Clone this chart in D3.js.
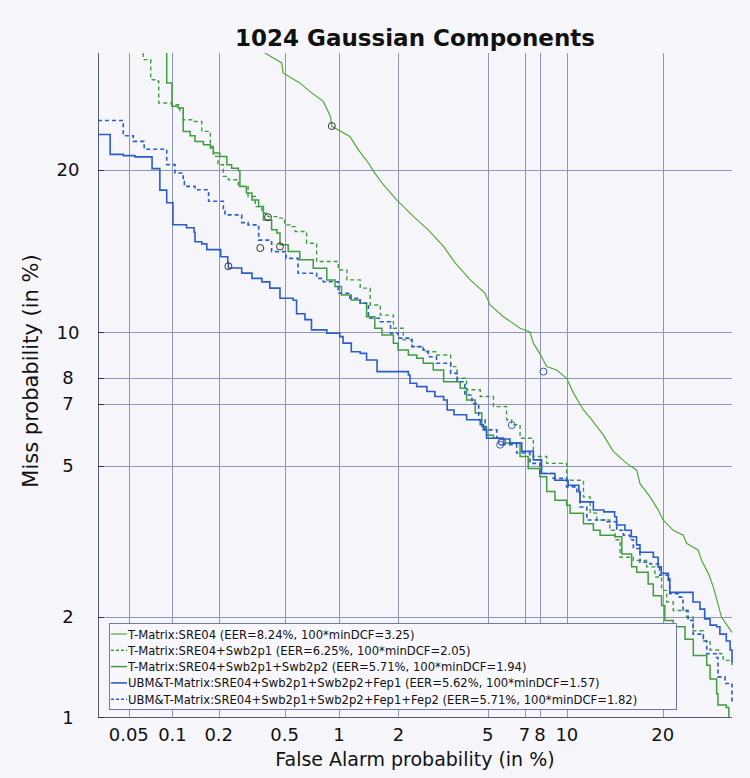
<!DOCTYPE html>
<html>
<head>
<meta charset="utf-8">
<script src="https://cdn.jsdelivr.net/npm/d3@7/dist/d3.min.js"></script>
<style>
body { margin: 0; background: #f6f6fa; }
svg { display: block; font-family: "DejaVu Sans", sans-serif; }
</style>
</head>
<body>
<svg width="750" height="778"></svg>
<script>
// axis ranges (in %) and ticks
const xRange = [0.03, 30];
const yRange = [1, 30];
const xTicks = [0.05, 0.1, 0.2, 0.5, 1, 2, 5, 7, 8, 10, 20];
const yTicks = [1, 2, 5, 7, 8, 10, 20];
const yGrid = [2, 5, 7, 8, 10, 20];

// legend text, EER (%) and minDCF operating points [FA %, Miss %]
const seriesNames = [
  "T-Matrix:SRE04 (EER=8.24%, 100*minDCF=3.25)",
  "T-Matrix:SRE04+Swb2p1 (EER=6.25%, 100*minDCF=2.05)",
  "T-Matrix:SRE04+Swb2p1+Swb2p2 (EER=5.71%, 100*minDCF=1.94)",
  "UBM&T-Matrix:SRE04+Swb2p1+Swb2p2+Fep1 (EER=5.62%, 100*minDCF=1.57)",
  "UBM&T-Matrix:SRE04+Swb2p1+Swb2p2+Fep1+Fep2 (EER=5.71%, 100*minDCF=1.82)"
];
const seriesEER = [8.24, 6.25, 5.71, 5.62, 5.71];
const minDcfPoints = [[0.915, 23.5], [0.40, 16.6], [0.47, 14.7], [0.23, 13.5], [0.36, 14.6]];

// DET curves, [false alarm %, miss %]
const curveSre04 = [
  [0.384, 30], [0.481, 29.07], [0.49, 28.14], [0.61, 27.24], [0.694, 26.48], [0.822, 25.6],
  [0.9, 24.3], [0.915, 23.47], [1.14, 22.64], [1.26, 21.57], [1.42, 20.53], [1.53, 19.76],
  [1.66, 19.02], [1.96, 17.8], [2.36, 16.64], [2.76, 15.76], [3.24, 14.69], [3.65, 13.68],
  [4.23, 12.71], [4.88, 11.97], [5.11, 11.35], [5.79, 10.75], [6.73, 10.18], [7.34, 10.0],
  [7.56, 9.48], [8.0, 9.0], [8.47, 8.45], [9.2, 8.31], [9.98, 7.97], [10.54, 7.39],
  [11.4, 6.77], [12.14, 6.43], [13.26, 5.92], [14.26, 5.42], [15.69, 5.07], [16.82, 4.88],
  [17.2, 4.52], [18.4, 4.19], [19.42, 3.88], [20.04, 3.66], [21.36, 3.44], [22.73, 3.34],
  [23.2, 3.18], [24.85, 3.05], [25.35, 2.86], [26.34, 2.64], [27.1, 2.42], [27.8, 2.17],
  [28.36, 1.99], [30, 1.8]
];
const curveSwb1 = [
  [0.0631, 30], [0.0631, 29.38], [0.07, 29.38], [0.0712, 27.53], [0.08, 27.38], [0.0808, 25.46],
  [0.0985, 25.31], [0.112, 24.73], [0.118, 24.02], [0.137, 23.88], [0.156, 23.05], [0.177, 21.83],
  [0.185, 21.04], [0.198, 20.39], [0.214, 19.51], [0.23, 19.26], [0.265, 18.77], [0.304, 18.04],
  [0.336, 17.33], [0.368, 16.87], [0.4, 16.64], [0.46, 16.54], [0.5, 16.09], [0.537, 15.97],
  [0.573, 15.65], [0.666, 14.9], [0.757, 13.78], [0.99, 13.28], [1.1, 12.71], [1.29, 12.25],
  [1.45, 11.35], [1.63, 10.83], [1.89, 10.18], [2.11, 9.63], [2.32, 9.32], [2.62, 9.09],
  [3.01, 8.95], [3.48, 8.45], [3.71, 7.97], [4.08, 7.52], [4.66, 7.26], [5.28, 6.89],
  [5.96, 6.43], [6.24, 6.26], [6.73, 5.82], [7.56, 5.27], [8.47, 5.07], [9.98, 4.61],
  [11.4, 4.19], [12.0, 3.81], [12.62, 3.66], [13.9, 3.44], [14.44, 3.25], [14.97, 2.92],
  [16.43, 2.86], [17.98, 2.75], [19.0, 2.58], [19.84, 2.37], [20.5, 2.2], [21.36, 2.08],
  [23.2, 1.99], [24.14, 1.82], [25.6, 1.7], [26.6, 1.6], [28.1, 1.56], [28.6, 1.49], [30, 1.41]
];
const curveSwb2 = [
  [0.0915, 30], [0.0915, 27.24], [0.0993, 27.24], [0.0993, 25.17], [0.109, 25.03], [0.118, 24.59],
  [0.118, 23.05], [0.131, 22.7], [0.141, 22.23], [0.16, 21.96], [0.177, 21.7], [0.185, 21.31],
  [0.203, 21.04], [0.225, 20.39], [0.241, 20.13], [0.265, 19.95], [0.271, 18.77], [0.297, 18.29],
  [0.321, 17.8], [0.352, 17.33], [0.376, 16.42], [0.42, 15.76], [0.451, 15.55], [0.47, 14.8],
  [0.524, 14.38], [0.61, 13.88], [0.725, 13.38], [0.86, 12.71], [0.952, 12.34], [1.03, 11.88],
  [1.16, 11.61], [1.29, 11.44], [1.39, 10.75], [1.53, 10.18], [1.66, 9.86], [1.89, 9.48],
  [1.99, 9.17], [2.23, 8.95], [2.44, 8.81], [2.62, 8.59], [2.91, 8.31], [3.24, 7.83],
  [3.83, 7.58], [4.08, 7.13], [4.44, 6.66], [4.73, 6.2], [4.95, 5.92], [5.28, 5.82],
  [5.79, 5.67], [6.73, 5.27], [7.23, 4.93], [8.0, 4.7], [8.47, 4.32], [9.07, 4.11],
  [9.98, 3.99], [10.26, 3.81], [11.4, 3.58], [12.3, 3.44], [12.94, 3.34], [14.44, 3.31],
  [15.16, 2.98], [16.24, 2.75], [16.82, 2.66], [18.17, 2.47], [18.8, 2.29], [19.84, 2.15],
  [20.26, 1.95], [21.36, 1.87], [22.97, 1.72], [24.14, 1.54], [26.1, 1.44], [26.6, 1.31],
  [27.6, 1.18], [27.8, 1.09], [29.1, 1.07], [29.5, 1.0]
];
const curveFep1 = [
  [0.03, 22.8], [0.0368, 21.2], [0.0457, 21.1], [0.0553, 21.0], [0.0727, 20.1], [0.0822, 18.5],
  [0.0915, 17.6], [0.1008, 16.1], [0.124, 15.9], [0.139, 15.6], [0.141, 15.0], [0.156, 14.86],
  [0.168, 14.5], [0.206, 14.07], [0.228, 13.7], [0.23, 13.4], [0.278, 13.1], [0.321, 12.8],
  [0.368, 12.6], [0.41, 12.25], [0.47, 11.7], [0.56, 11.6], [0.585, 10.9], [0.652, 10.6],
  [0.709, 10.1], [0.86, 9.94], [1.01, 9.78], [1.05, 9.48], [1.16, 9.09], [1.29, 9.02],
  [1.39, 8.73], [1.57, 8.24], [2.03, 8.24], [2.23, 8.1], [2.27, 7.77], [2.44, 7.64],
  [2.72, 7.45], [2.96, 7.26], [3.24, 7.13], [3.36, 6.77], [3.6, 6.6], [4.08, 6.43],
  [4.66, 6.26], [4.8, 6.09], [4.95, 5.82], [5.62, 5.8], [6.15, 5.67], [6.83, 5.42],
  [7.56, 5.17], [8.11, 5.12], [8.11, 4.79], [9.07, 4.61], [10.1, 4.48], [11.0, 4.32],
  [11.1, 4.07], [12.3, 3.88], [13.3, 3.84], [14.4, 3.73], [14.6, 3.55], [15.5, 3.44],
  [16.2, 3.31], [16.8, 3.15], [17.2, 3.01], [18.8, 2.92], [19.4, 2.75], [19.8, 2.64],
  [20.7, 2.53], [20.9, 2.34], [23.2, 2.34], [24.1, 2.2], [25.1, 2.1], [25.8, 1.97],
  [26.6, 1.89], [27.6, 1.87], [28.1, 1.78], [29.1, 1.7], [29.7, 1.6], [30, 1.47]
];
const curveFep2 = [
  [0.03, 23.96], [0.0457, 22.7], [0.0538, 22.24], [0.0641, 21.6], [0.0915, 20.4], [0.104, 19.76],
  [0.118, 19.14], [0.12, 18.77], [0.141, 18.53], [0.1725, 17.7], [0.214, 17.1], [0.219, 16.76],
  [0.278, 16.24], [0.304, 16.09], [0.352, 15.1], [0.42, 14.38], [0.51, 13.97], [0.596, 13.09],
  [0.757, 12.8], [0.822, 12.61], [0.99, 11.97], [1.14, 11.7], [1.29, 11.44], [1.42, 10.67],
  [1.63, 10.5], [1.83, 9.94], [1.99, 9.71], [2.32, 9.32], [2.62, 9.17], [2.76, 8.87],
  [3.01, 8.59], [3.48, 8.17], [3.71, 7.83], [4.01, 7.32], [4.3, 7.0], [4.59, 6.43],
  [4.88, 6.09], [5.45, 5.82], [5.79, 5.62], [6.53, 5.37], [7.34, 5.07], [7.99, 4.79],
  [8.94, 4.66], [9.98, 4.44], [10.83, 4.28], [11.1, 3.95], [11.7, 3.66], [13.6, 3.62],
  [14.62, 3.44], [15.33, 3.34], [16.05, 3.25], [16.43, 3.08], [17.2, 2.83], [18.4, 2.8],
  [19.6, 2.61], [20.9, 2.32], [22.2, 2.27], [22.7, 2.08], [23.4, 1.95], [24.1, 1.78],
  [25.6, 1.7], [26.1, 1.56], [27.6, 1.52], [27.8, 1.33], [28.9, 1.27], [30, 1.1]
];
const curves = [curveSre04, curveSwb1, curveSwb2, curveFep1, curveFep2];

const green = "#3f9d3f", blue = "#2a5ccc";
const styles = [
  { color: "#55a83a", dash: null, width: 1.2, step: false },
  { color: green, dash: "4,3", width: 1.4, step: true },
  { color: green, dash: null, width: 1.5, step: true },
  { color: blue, dash: null, width: 1.6, step: true },
  { color: blue, dash: "4,3", width: 1.6, step: true }
];

// inverse normal CDF (Acklam)
function probit(p) {
  const a = [-3.969683028665376e+01, 2.209460984245205e+02, -2.759285104469687e+02, 1.383577518672690e+02, -3.066479806614716e+01, 2.506628277459239e+00];
  const b = [-5.447609879822406e+01, 1.615858368580409e+02, -1.556989798598866e+02, 6.680131188771972e+01, -1.328068155288572e+01];
  const c = [-7.784894002430293e-03, -3.223964580411365e-01, -2.400758277161838e+00, -2.549732539343734e+00, 4.374664141464968e+00, 2.938163982698783e+00];
  const d = [7.784695709041462e-03, 3.224671290700398e-01, 2.445134137142996e+00, 3.754408661907416e+00];
  const pl = 0.02425;
  if (p < pl) {
    const q = Math.sqrt(-2 * Math.log(p));
    return (((((c[0]*q+c[1])*q+c[2])*q+c[3])*q+c[4])*q+c[5]) / ((((d[0]*q+d[1])*q+d[2])*q+d[3])*q+1);
  }
  if (p <= 1 - pl) {
    const q = p - 0.5, r = q * q;
    return (((((a[0]*r+a[1])*r+a[2])*r+a[3])*r+a[4])*r+a[5])*q / (((((b[0]*r+b[1])*r+b[2])*r+b[3])*r+b[4])*r+1);
  }
  const q = Math.sqrt(-2 * Math.log(1 - p));
  return -(((((c[0]*q+c[1])*q+c[2])*q+c[3])*q+c[4])*q+c[5]) / ((((d[0]*q+d[1])*q+d[2])*q+d[3])*q+1);
}

const plotL = 98, plotR = 732, plotT = 53, plotB = 717;
const xz = d3.scaleLinear().domain(xRange.map(v => probit(v / 100))).range([plotL, plotR]);
const yz = d3.scaleLinear().domain(yRange.map(v => probit(v / 100))).range([plotB, plotT]);
const x = v => xz(probit(v / 100));
const y = v => yz(probit(v / 100));

const svg = d3.select("svg");

svg.append("text")
  .attr("x", 415).attr("y", 46)
  .attr("text-anchor", "middle")
  .attr("font-size", 23).attr("font-weight", "bold")
  .attr("fill", "#111")
  .text("1024 Gaussian Components");

// grid
let grid = svg.append("g").attr("stroke", "#8d96b8").attr("stroke-width", 1);
grid.selectAll(".vx").data(xTicks).enter().append("line")
  .attr("x1", d => Math.round(x(d)) + 0.5).attr("x2", d => Math.round(x(d)) + 0.5)
  .attr("y1", plotT).attr("y2", plotB);
grid.selectAll(".hy").data(yGrid).enter().append("line")
  .attr("x1", plotL).attr("x2", plotR)
  .attr("y1", d => Math.round(y(d)) + 0.5).attr("y2", d => Math.round(y(d)) + 0.5);

// axes frame
svg.append("line").attr("x1", plotL + 0.5).attr("x2", plotL + 0.5).attr("y1", plotT).attr("y2", plotB)
  .attr("stroke", "#555a70").attr("stroke-width", 1);
svg.append("line").attr("x1", plotL).attr("x2", plotR).attr("y1", plotB + 0.5).attr("y2", plotB + 0.5)
  .attr("stroke", "#555a70").attr("stroke-width", 1);
svg.selectAll(".ytk").data(yTicks).enter().append("line")
  .attr("x1", plotL).attr("x2", plotL + 6)
  .attr("y1", d => Math.round(y(d)) + 0.5).attr("y2", d => Math.round(y(d)) + 0.5)
  .attr("stroke", "#333");

// tick labels
svg.selectAll(".xl").data(xTicks).enter().append("text")
  .attr("x", d => x(d)).attr("y", 741)
  .attr("text-anchor", "middle").attr("font-size", 18).attr("fill", "#111")
  .text(d => d);
svg.selectAll(".yl").data(yTicks).enter().append("text")
  .attr("x", 68).attr("y", d => y(d) + 6.5)
  .attr("text-anchor", "middle").attr("font-size", 18).attr("fill", "#111")
  .text(d => d);

svg.append("text")
  .attr("x", 415).attr("y", 766)
  .attr("text-anchor", "middle").attr("font-size", 19).attr("fill", "#111")
  .text("False Alarm probability (in %)");
svg.append("text")
  .attr("transform", "translate(38,371) rotate(-90)")
  .attr("text-anchor", "middle").attr("font-size", 21).attr("fill", "#111")
  .text("Miss probability (in %)");

// curves
const plot = svg.append("g");
curves.forEach((c, i) => {
  const line = d3.line()
    .x(d => x(d[0])).y(d => y(d[1]))
    .curve(styles[i].step ? d3.curveStepAfter : d3.curveLinear);
  plot.append("path")
    .datum(c)
    .attr("d", line)
    .attr("fill", "none")
    .attr("stroke", styles[i].color)
    .attr("stroke-width", styles[i].width)
    .attr("stroke-dasharray", styles[i].dash);
});

// EER points and minDCF points
plot.selectAll(".eer").data(seriesEER).enter().append("circle")
  .attr("cx", d => x(d)).attr("cy", d => y(d)).attr("r", 3.5)
  .attr("fill", "none").attr("stroke", "#3b5bb5").attr("stroke-width", 1);
plot.selectAll(".dcf").data(minDcfPoints).enter().append("circle")
  .attr("cx", d => x(d[0])).attr("cy", d => y(d[1])).attr("r", 3.5)
  .attr("fill", "none").attr("stroke", "#333").attr("stroke-width", 1);

// legend
const lg = svg.append("g");
lg.append("rect")
  .attr("x", 109.5).attr("y", 623.5).attr("width", 567).attr("height", 86)
  .attr("fill", "#f8f8fc").attr("stroke", "#6d7aa6").attr("stroke-width", 1);
seriesNames.forEach((name, i) => {
  const ly = 634 + i * 16.3;
  lg.append("line")
    .attr("x1", 111).attr("x2", 127).attr("y1", ly).attr("y2", ly)
    .attr("stroke", styles[i].color).attr("stroke-width", styles[i].width)
    .attr("stroke-dasharray", styles[i].dash ? "3,2" : null);
  lg.append("text")
    .attr("x", 128).attr("y", ly + 4.5)
    .attr("font-size", 11.6).attr("fill", "#111")
    .text(name);
});
</script>
</body>
</html>
